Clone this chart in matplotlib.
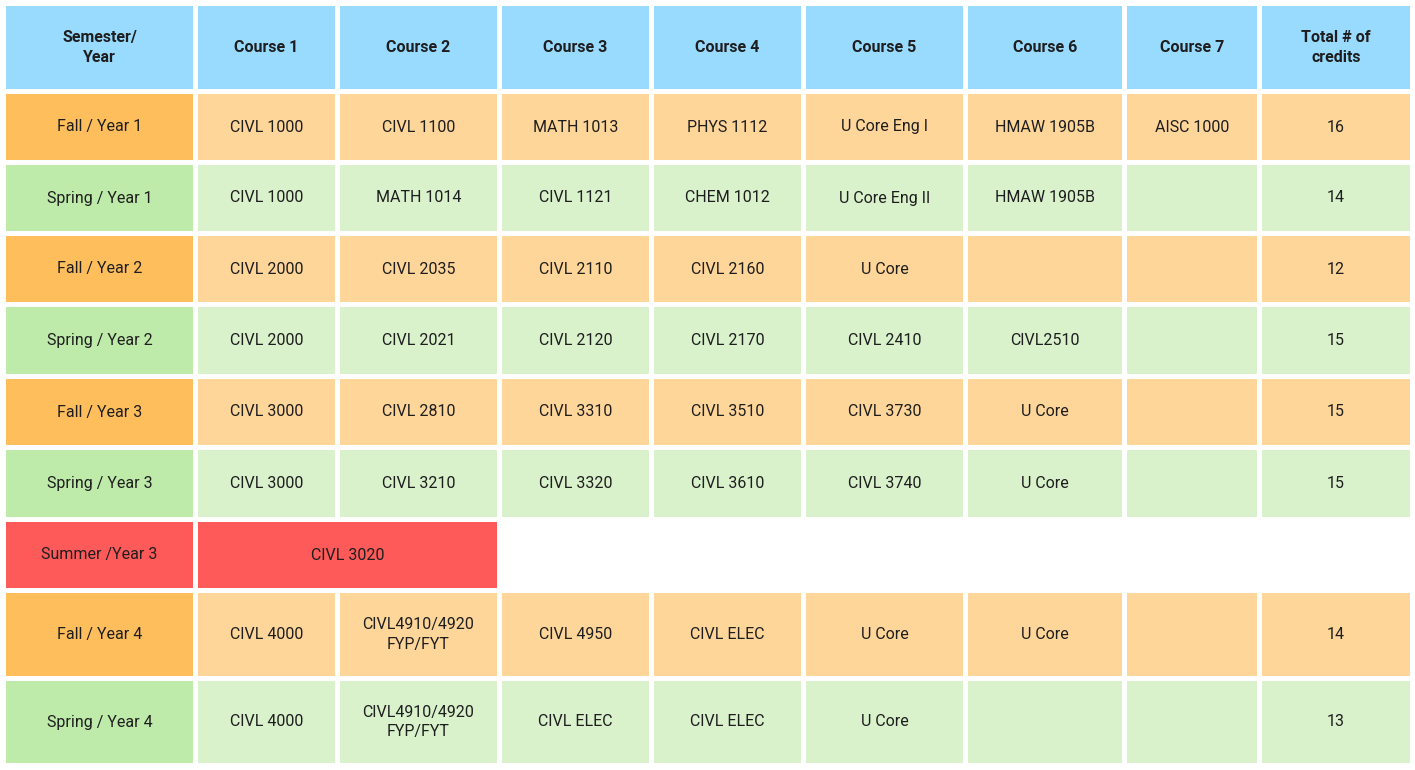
import matplotlib
matplotlib.use("Agg")
import matplotlib.pyplot as plt
from matplotlib.patches import Rectangle

headers = ["Semester/\nYear", "Course 1", "Course 2", "Course 3", "Course 4", "Course 5", "Course 6", "Course 7", "Total # of\ncredits"]
semesters = ["Fall / Year 1", "Spring / Year 1", "Fall / Year 2", "Spring / Year 2", "Fall / Year 3",
             "Spring / Year 3", "Summer /Year 3", "Fall / Year 4", "Spring / Year 4"]
courses = [
    ["CIVL 1000", "CIVL 1100", "MATH 1013", "PHYS 1112", "U Core Eng I", "HMAW 1905B", "AISC 1000"],
    ["CIVL 1000", "MATH 1014", "CIVL 1121", "CHEM 1012", "U Core Eng II", "HMAW 1905B", ""],
    ["CIVL 2000", "CIVL 2035", "CIVL 2110", "CIVL 2160", "U Core", "", ""],
    ["CIVL 2000", "CIVL 2021", "CIVL 2120", "CIVL 2170", "CIVL 2410", "CIVL2510", ""],
    ["CIVL 3000", "CIVL 2810", "CIVL 3310", "CIVL 3510", "CIVL 3730", "U Core", ""],
    ["CIVL 3000", "CIVL 3210", "CIVL 3320", "CIVL 3610", "CIVL 3740", "U Core", ""],
    ["CIVL 3020"],
    ["CIVL 4000", "CIVL4910/4920\nFYP/FYT", "CIVL 4950", "CIVL ELEC", "U Core", "U Core", ""],
    ["CIVL 4000", "CIVL4910/4920\nFYP/FYT", "CIVL ELEC", "CIVL ELEC", "U Core", "", ""],
]
credits = ["16", "14", "12", "15", "15", "15", "", "14", "13"]
kinds = ["fall", "spring", "fall", "spring", "fall", "spring", "summer", "fall", "spring"]

xs = [(6, 193), (198, 335), (340, 497), (502, 649), (654, 801), (806, 963), (968, 1122), (1127, 1257), (1262, 1410)]
ys = [(6, 89), (94, 160), (165, 231), (236, 302), (307, 374), (379, 445), (450, 517), (522, 588), (593, 676), (681, 763)]

first_col = {"fall": "#FFBE5C", "spring": "#BEEAAA", "summer": "#FF5A5A"}
cell_col = {"fall": "#FFD69A", "spring": "#D9F2CC", "summer": "#FF5A5A"}
header_col = "#99DBFF"
txt = "#1E1E1E"

fig = plt.figure(figsize=(14.15, 7.7), dpi=100)
ax = fig.add_axes([0, 0, 1, 1])
ax.set_xlim(0, 1415)
ax.set_ylim(770, 0)
ax.axis("off")
font = "Roboto"

def cell(x0, x1, y0, y1, color, text, bold=False):
    ax.add_patch(Rectangle((x0, y0), x1 - x0, y1 - y0, facecolor=color, edgecolor="none"))
    if text:
        ax.text((x0 + x1) / 2, (y0 + y1) / 2, text, ha="center", va="center", fontsize=11.5,
                color=txt, family=font, fontweight="bold" if bold else "normal", linespacing=1.4)

for j, h in enumerate(headers):
    cell(*xs[j], *ys[0], header_col, h, bold=True)

for i, sem in enumerate(semesters):
    y0, y1 = ys[i + 1]
    k = kinds[i]
    cell(*xs[0], y0, y1, first_col[k], sem)
    if k == "summer":
        cell(xs[1][0], xs[2][1], y0, y1, cell_col[k], courses[i][0])
        continue
    for j, c in enumerate(courses[i]):
        cell(*xs[j + 1], y0, y1, cell_col[k], c)
    cell(*xs[8], y0, y1, cell_col[k], credits[i])

fig.savefig("out.png", dpi=100, facecolor="white")
